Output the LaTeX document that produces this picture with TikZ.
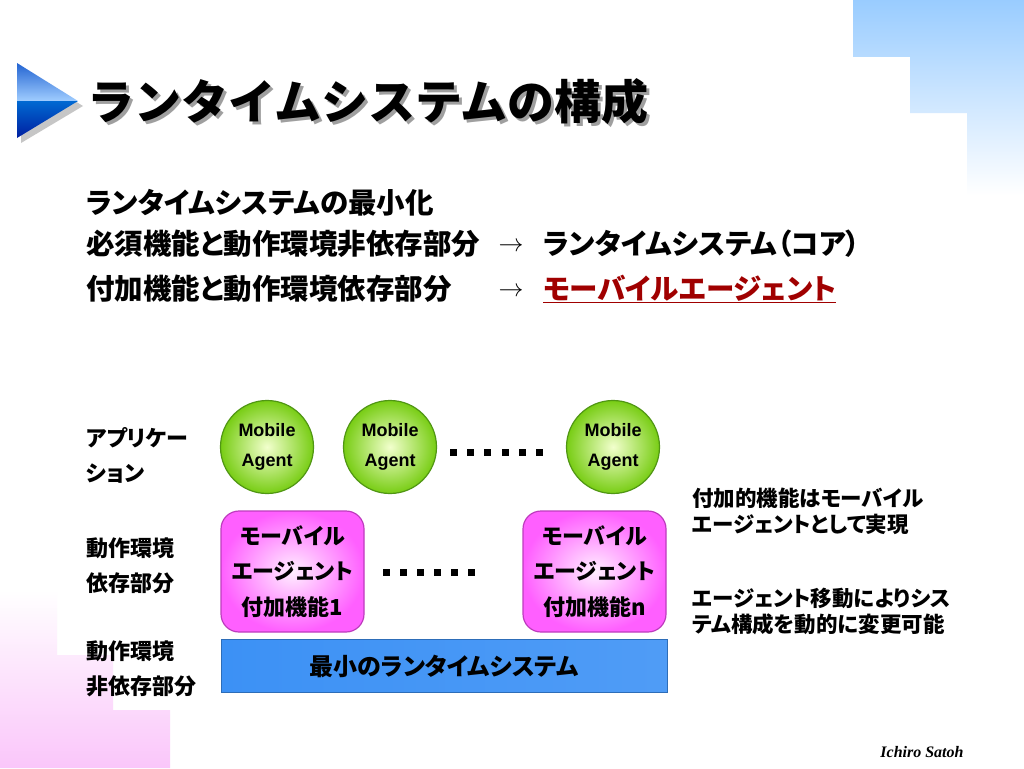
\documentclass[tikz,border=0pt]{standalone}
\usepackage{fontspec}
\setmainfont{Liberation Sans}
\newfontfamily\jp{Noto Sans CJK JP}[RawFeature=+palt]
\newfontfamily\jpfw{Noto Sans CJK JP}
\newfontfamily\tms{Liberation Serif}
\definecolor{skyblue}{RGB}{153,204,255}
\definecolor{pinkfade}{RGB}{250,198,250}
\definecolor{agentgreen}{RGB}{120,205,20}
\definecolor{agentlight}{RGB}{242,255,205}
\definecolor{agentedge}{RGB}{80,150,20}
\definecolor{funcpink}{RGB}{255,95,255}
\definecolor{funcedge}{RGB}{190,60,190}
\definecolor{barblue}{RGB}{60,145,245}
\definecolor{barlight}{RGB}{125,195,255}
\definecolor{corered}{RGB}{160,0,0}

\tikzset{
    agent/.style={circle, minimum size=93pt, inner sep=0pt, draw=agentedge, line width=1.2pt,
        inner color=agentlight, outer color=agentgreen, align=center,
        font=\bfseries\fontsize{18}{30}\selectfont},
    funcbox/.style={rectangle, rounded corners=18pt, minimum width=143pt, minimum height=121pt,
        draw=funcedge, line width=1.2pt, inner color=funcpink!10, outer color=funcpink, align=center,
        font=\jp\bfseries\fontsize{22}{35.5}\selectfont},
    runbar/.style={rectangle, minimum width=446pt, minimum height=53pt, draw=barblue!75!black,
        line width=0.8pt, left color=barblue, middle color=barlight, right color=barblue!90!white,
        font=\jp\bfseries\fontsize{24}{28}\selectfont},
    bodytxt/.style={anchor=west, inner sep=0pt, font=\jp\bfseries\fontsize{28.5}{32}\selectfont},
    arrowtxt/.style={inner sep=0pt, font=\fontsize{28}{32}\selectfont},
    layertxt/.style={anchor=west, inner sep=0pt, align=left, font=\jp\bfseries\fontsize{22}{35}\selectfont},
    notetxt/.style={anchor=west, inner sep=0pt, align=left, font=\jp\bfseries\fontsize{21.5}{26}\selectfont},
    titletxt/.style={anchor=west, inner sep=0pt, font=\jpfw\bfseries\fontsize{47}{50}\selectfont},
}

\begin{document}
\begin{tikzpicture}[x=1pt, y=-1pt]
    \useasboundingbox[fill=white] (0,0) rectangle (1024,768);

    % background steps
    \shade[top color=skyblue, bottom color=white]
        (853,0) -- (1024,0) -- (1024,195) -- (967,195) -- (967,113) -- (910,113) -- (910,57) -- (853,57) -- cycle;
    \shade[top color=white, bottom color=pinkfade]
        (0,590) -- (57,590) -- (57,655) -- (113,655) -- (113,710) -- (170,710) -- (170,768) -- (0,768) -- cycle;

    % title mark
    \fill[gray!45] (21,68) -- (83,106) -- (21,143) -- cycle;
    \shade[top color={rgb,255:red,35;green,100;blue,210}, bottom color={rgb,255:red,160;green,205;blue,255}]
        (17,63) -- (78,101) -- (17,101) -- cycle;
    \shade[top color={rgb,255:red,0;green,105;blue,210}, bottom color={rgb,255:red,0;green,30;blue,160}]
        (17,101) -- (78,101) -- (17,138) -- cycle;

    % title
    \node[titletxt, text=gray!75] (titleshade) at (90,105) {ランタイムシステムの構成};
    \node[titletxt] (title) at (87,102) {ランタイムシステムの構成};

    % text lines
    \node[bodytxt] (minimal) at (86,203) {ランタイムシステムの最小化};
    \node[bodytxt] (essential) at (86,244) {必須機能と動作環境非依存部分};
    \node[arrowtxt] (arr1) at (511,247) {$\rightarrow$};
    \node[bodytxt] (coresys) at (543,244) {ランタイムシステム（コア）};
    \node[bodytxt] (extra) at (86,289) {付加機能と動作環境依存部分};
    \node[arrowtxt] (arr2) at (511,292) {$\rightarrow$};
    \node[bodytxt, text=corered] (agentsys) at (543,289) {\underline{モーバイルエージェント}};

    % layer labels
    \node[layertxt] (lapp) at (86,455) {アプリケー\\ション};
    \node[layertxt] (ldep) at (86,566) {動作環境\\依存部分};
    \node[layertxt] (lindep) at (86,669) {動作環境\\非依存部分};

    % mobile agents
    \foreach \x/\n in {267/1, 390/2, 613/3} {
        \node[agent] (ma\n) at (\x,447) {Mobile\\Agent};
    }
    \foreach \i in {0,...,5} {
        \fill (450+17.2*\i,449) rectangle ++(7,7);
    }

    % additional functions
    \node[funcbox] (fa1) at (292.5,571.5) {モーバイル\\エージェント\\付加機能1};
    \node[funcbox] (fan) at (594.5,571.5) {モーバイル\\エージェント\\付加機能n};
    \foreach \i in {0,...,5} {
        \fill (383+17*\i,569) rectangle ++(7,7);
    }

    % minimal runtime
    \node[runbar] (runtime) at (444,666) {最小のランタイムシステム};

    % notes
    \node[notetxt] (note1) at (692,511) {付加的機能はモーバイル\\エージェントとして実現};
    \node[notetxt] (note2) at (692,611) {エージェント移動によりシス\\テム構成を動的に変更可能};

    \node[font=\tms\bfseries\itshape\fontsize{16}{18}\selectfont] (credit) at (922,752) {Ichiro Satoh};
\end{tikzpicture}
\end{document}
